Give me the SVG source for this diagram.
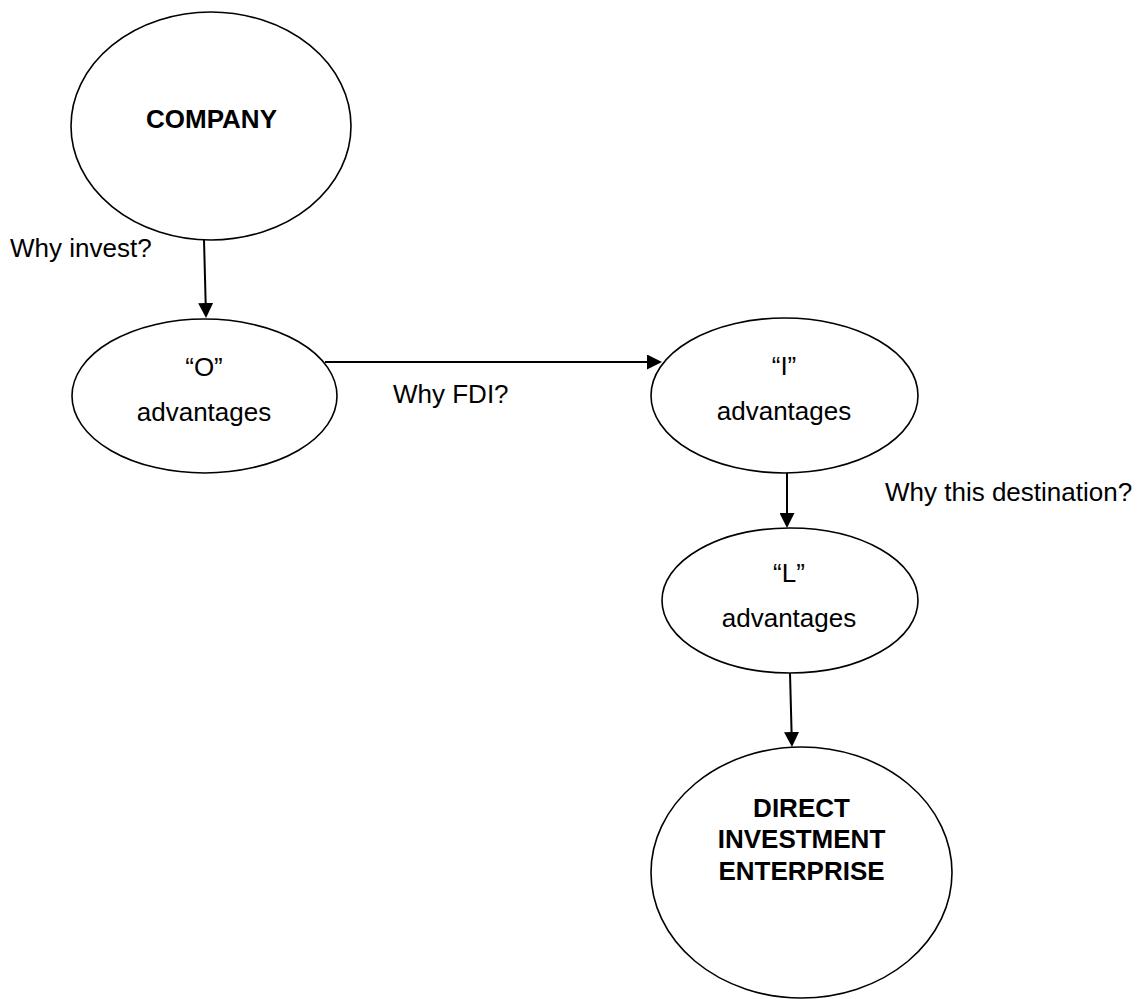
<svg xmlns="http://www.w3.org/2000/svg" width="1138" height="999" viewBox="0 0 1138 999">
  <style>
    .node { fill: #ffffff; stroke: #000000; stroke-width: 1.6; }
    .edge { fill: none; stroke: #000000; stroke-width: 2; }
    .label { font-family: "Liberation Sans", Arial, sans-serif; font-size: 26px; fill: #000000; }
    .title { font-family: "Liberation Sans", Arial, sans-serif; font-size: 26px; font-weight: bold; fill: #000000; }
    .mid { text-anchor: middle; }
  </style>
  <defs>
    <marker id="arrow" viewBox="0 0 15 15" refX="5" refY="7.5" markerWidth="15" markerHeight="15" markerUnits="userSpaceOnUse" orient="auto">
      <path d="M0,0 L15,7.5 L0,15 z" fill="#000000"/>
    </marker>
  </defs>

  <rect x="0" y="0" width="1138" height="999" fill="#ffffff"/>

  <!-- connectors (line ends sit 10px short of the arrow tip) -->
  <g id="connectors">
    <line class="edge" x1="204" y1="240" x2="205.8" y2="308" marker-end="url(#arrow)"/>
    <line class="edge" x1="325" y1="362" x2="652" y2="362" marker-end="url(#arrow)"/>
    <line class="edge" x1="787" y1="473" x2="787" y2="518" marker-end="url(#arrow)"/>
    <line class="edge" x1="790" y1="673" x2="791.7" y2="737" marker-end="url(#arrow)"/>
  </g>

  <!-- edge labels -->
  <g id="edge-labels">
    <text class="label" x="10" y="257">Why invest?</text>
    <text class="label" x="393" y="403">Why FDI?</text>
    <text class="label" x="885" y="501">Why this destination?</text>
  </g>

  <g id="company">
    <ellipse class="node" cx="211" cy="126" rx="140" ry="114"/>
    <text class="title mid" x="211.5" y="128">COMPANY</text>
  </g>

  <g id="o-advantages">
    <ellipse class="node" cx="204.5" cy="396" rx="132.5" ry="77"/>
    <text class="label mid" x="204" y="376">“O”</text>
    <text class="label mid" x="204" y="421">advantages</text>
  </g>

  <g id="i-advantages">
    <ellipse class="node" cx="784.5" cy="395.5" rx="133.5" ry="77.5"/>
    <text class="label mid" x="784" y="375">“I”</text>
    <text class="label mid" x="784" y="420">advantages</text>
  </g>

  <g id="l-advantages">
    <ellipse class="node" cx="790" cy="600.5" rx="128" ry="72.5"/>
    <text class="label mid" x="789" y="582">“L”</text>
    <text class="label mid" x="789" y="627">advantages</text>
  </g>

  <g id="direct-investment-enterprise">
    <ellipse class="node" cx="801.5" cy="872.5" rx="150.5" ry="125.5"/>
    <text class="title mid" x="801.5" y="817">DIRECT</text>
    <text class="title mid" x="801.5" y="848">INVESTMENT</text>
    <text class="title mid" x="801.5" y="880">ENTERPRISE</text>
  </g>
</svg>
